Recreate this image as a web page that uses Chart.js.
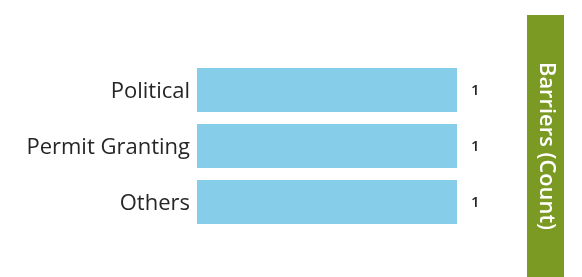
<!DOCTYPE html>
<html>
<head>
<meta charset="utf-8">
<script src="https://cdn.jsdelivr.net/npm/chart.js@4/dist/chart.umd.min.js"></script>
<style>
  html, body { margin: 0; padding: 0; background: #ffffff; }
  #wrap { width: 582px; height: 277px; }
</style>
</head>
<body>
<div id="wrap"><canvas id="c" width="582" height="277"></canvas></div>
<script>
const categories = ["Political", "Permit Granting", "Others"];
const counts = [1, 1, 1];
const seriesTitle = "Barriers (Count)";

const titleBox = {
  id: 'titleBox',
  beforeDraw(chart) {
    const t = chart.titleBlock;
    if (!t) return;
    const ctx = chart.ctx;
    const lh = t.options.font.size * t.options.font.lineHeight;
    const w = lh + 15;
    ctx.save();
    ctx.fillStyle = '#7b9a24';
    ctx.fillRect(t.right - w, 15, w, chart.height - 15);
    ctx.restore();
  }
};

const valueLabels = {
  id: 'valueLabels',
  afterDatasetsDraw(chart) {
    const ctx = chart.ctx;
    const meta = chart.getDatasetMeta(0);
    ctx.save();
    ctx.fillStyle = '#262626';
    ctx.font = '600 15px "Open Sans"';
    ctx.textAlign = 'left';
    ctx.textBaseline = 'middle';
    meta.data.forEach((bar, i) => {
      ctx.fillText(String(counts[i]), bar.x + 14, bar.y + 1);
    });
    ctx.restore();
  }
};

new Chart(document.getElementById('c'), {
  type: 'bar',
  data: {
    labels: categories,
    datasets: [{
      label: seriesTitle,
      data: counts,
      backgroundColor: '#86cdea',
      borderWidth: 0,
      barPercentage: 0.79,
      categoryPercentage: 1
    }]
  },
  options: {
    indexAxis: 'y',
    responsive: false,
    animation: false,
    layout: { padding: { top: 62, bottom: 47, left: 0, right: 18 } },
    scales: {
      x: { display: false, min: 0, max: 1 },
      y: {
        grid: { display: false, drawTicks: false },
        border: { display: false },
        afterFit(scale) { scale.width = 197; },
        ticks: {
          color: '#262626',
          padding: 7,
          labelOffset: 2,
          font: { family: '"Open Sans"', size: 22 }
        }
      }
    },
    plugins: {
      legend: { display: false },
      tooltip: { enabled: false },
      title: {
        display: true,
        text: seriesTitle,
        position: 'right',
        color: '#ffffff',
        font: { family: '"Open Sans"', size: 22, weight: '600', lineHeight: 1.0 },
        padding: { top: 7, bottom: 78 }
      }
    }
  },
  plugins: [titleBox, valueLabels]
});
</script>
</body>
</html>
